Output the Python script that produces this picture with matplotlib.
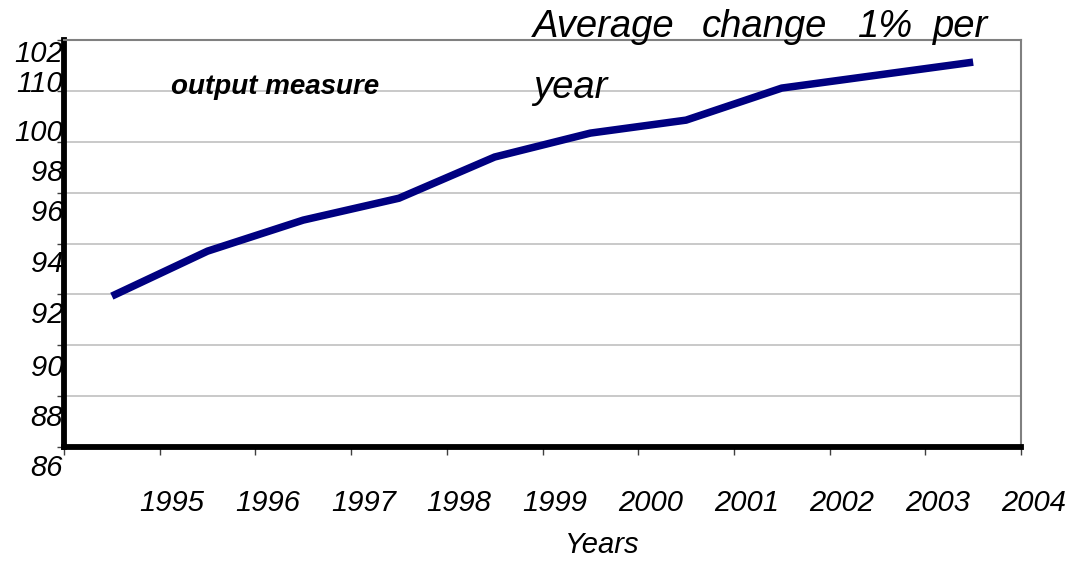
import matplotlib.pyplot as plt

# ---------- data ------------------------------------------------------------
years = ['1995', '1996', '1997', '1998', '1999',
         '2000', '2001', '2002', '2003', '2004']
output_measure = [91.93, 93.70, 94.92, 95.78, 97.40,
                  98.34, 98.85, 100.11, 100.62, 101.13]

y_ticks = [86, 88, 90, 92, 94, 96, 98, 100, 102]
y_labels = ['86', '88', '90', '92', '94', '96', '98', '100', '110', '102']
y_label_pos = [85.17, 87.14, 89.11, 91.19, 93.19, 95.20, 96.77, 98.34, 100.27, 101.45]

plt.rcParams['font.family'] = ['Liberation Sans', 'DejaVu Sans']

# ---------- figure ----------------------------------------------------------
fig = plt.figure(figsize=(10.77, 5.61), dpi=100)
ax = fig.add_axes([64 / 1077, 1 - 447 / 561, (1021 - 64) / 1077, (447 - 40) / 561])

x = list(range(len(years)))
ax.plot(x, output_measure, color='#000080', lw=5.4, solid_capstyle='butt',
        solid_joinstyle='miter', zorder=3)

# gridlines
ax.set_yticks(y_ticks)
ax.yaxis.grid(True, color='#c0c0c0', lw=1.2)
ax.set_axisbelow(True)
ax.tick_params(axis='y', which='major', length=5, width=1, color='#404040',
               labelleft=False, direction='out')

# x ticks sit between the categories
ax.set_xticks([i - 0.5 for i in range(len(years) + 1)])
ax.tick_params(axis='x', which='major', length=6, width=1, color='#404040',
               labelbottom=False, direction='out')

ax.set_xlim(-0.5, len(years) - 0.5)
ax.set_ylim(86, 102)

# year labels, shifted to the right of each category
xtrans = ax.get_xaxis_transform()
for i, yr in zip(x, years):
    ax.text(i + 0.63, -0.1376, yr, transform=xtrans, ha='center', va='center',
            fontsize=21, style='italic', clip_on=False)

# y labels drawn as text beside the axis
ytrans = ax.get_yaxis_transform()
for lab, pos in zip(y_labels, y_label_pos):
    ax.text(-0.001, pos, lab, transform=ytrans, ha='right', va='center',
            fontsize=21, style='italic', clip_on=False)

# spines
for side in ('left', 'bottom'):
    ax.spines[side].set_linewidth(4.2)
    ax.spines[side].set_color('black')
for side in ('right', 'top'):
    ax.spines[side].set_linewidth(1.5)
    ax.spines[side].set_color('#808080')

# ---------- annotations -----------------------------------------------------
fig.text(171 / 1077, 1 - 94 / 561, 'output measure',
         fontsize=20, fontweight='bold', style='italic', ha='left', va='baseline')

for word, xl in zip(['Average', 'change', '1%', 'per'], [533, 702, 857, 933]):
    fig.text(xl / 1077, 1 - 37 / 561, word, fontsize=27.5, style='italic',
             ha='left', va='baseline')
fig.text(533 / 1077, 1 - 98 / 561, 'year', fontsize=27.5, style='italic',
         ha='left', va='baseline')

fig.text(602 / 1077, 1 - 545 / 561, 'Years', fontsize=21, style='italic',
         ha='center', va='center')

fig.savefig('out.png', dpi=100)
